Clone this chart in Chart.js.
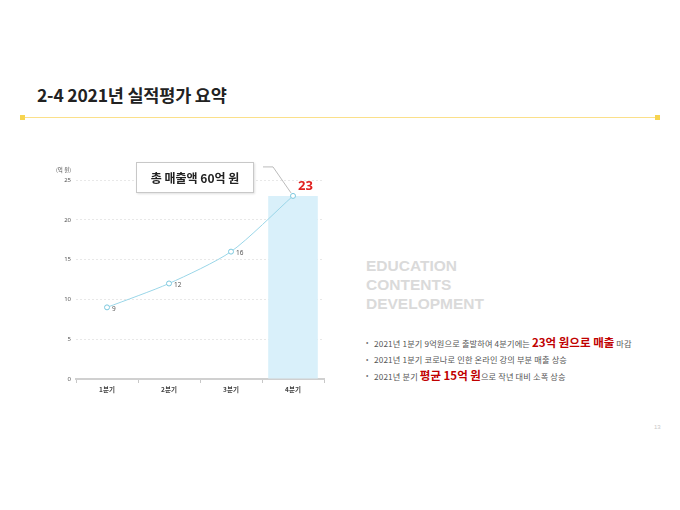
<!DOCTYPE html>
<html>
<head>
<meta charset="utf-8">
<script src="https://cdn.jsdelivr.net/npm/chart.js@4.4.1/dist/chart.umd.min.js"></script>
<style>
  body { margin: 0; background: #fff; font-family: "Noto Sans CJK KR", sans-serif; }
  #page { position: relative; width: 680px; height: 510px; overflow: hidden; background: #fff; }
  .title { position: absolute; left: 37px; top: 82px; font-size: 17.5px; font-weight: 700; color: #222; letter-spacing: -0.2px; }
  .rule { position: absolute; left: 23px; top: 117px; width: 634px; height: 1px; background: #fbe08a; }
  .sq { position: absolute; top: 115px; width: 5px; height: 5px; background: #f7d450; }
  #chartBox { position: absolute; left: 40px; top: 156px; width: 300px; height: 254px; }
  .unit { position: absolute; left: 56px; top: 166px; font-size: 5.5px; color: #555; }
  .callout { position: absolute; left: 136px; top: 162px; width: 116px; height: 29px; border: 1px solid #c8c8c8;
             background: #fff; box-shadow: 1px 1px 2px rgba(0,0,0,0.12); font-size: 12px; font-weight: 700; color: #222;
             text-align: center; line-height: 29px; }
  .edu { position: absolute; left: 366px; top: 256px; font-family: "Liberation Sans", Arial, sans-serif; font-weight: 700;
         font-size: 15.5px; line-height: 19px; color: #dadada; }
  .bullets { position: absolute; left: 366px; top: 334px; font-size: 8.2px; color: #555; letter-spacing: 0.15px; }
  .bullets div { position: relative; padding-left: 8px; height: 16.5px; line-height: 16.5px; white-space: nowrap; }
  .bullets div::before { content: "•"; position: absolute; left: 0; top: 0; font-size: 7px; color: #777; }
  .bullets b { color: #c00000; font-size: 11.5px; font-weight: 700; letter-spacing: 0; }
  .pno { position: absolute; left: 654px; top: 424px; font-size: 6px; color: #c8c8c8; font-family: "Liberation Sans", Arial, sans-serif; }
</style>
</head>
<body>
<div id="page">
  <div class="title">2-4 2021년 실적평가 요약</div>
  <div class="rule"></div>
  <div class="sq" style="left:20px"></div>
  <div class="sq" style="left:655px"></div>

  <div id="chartBox"><canvas id="grafico"></canvas></div>
  <div class="unit">(억 원)</div>
  <div class="callout">총 매출액 60억 원</div>

  <div class="edu">EDUCATION<br>CONTENTS<br>DEVELOPMENT</div>
  <div class="bullets">
    <div>2021년 1분기 9억원으로 출발하여 4분기에는 <b>23억 원으로 매출</b> 마감</div>
    <div>2021년 1분기 코로나로 인한 온라인 강의 부분 매출 상승</div>
    <div>2021년 분기 <b>평균 15억 원</b>으로 작년 대비 소폭 상승</div>
  </div>
  <div class="pno">13</div>
</div>

<script>
// datos del grafico
const categorias = ['1분기', '2분기', '3분기', '4분기']
const ventasTrimestre = [9, 12, 16, 23]
const barraResaltada = [null, null, null, 23]
const ticksY = [0, 5, 10, 15, 20, 25]

// etiquetas de los puntos (el ultimo va en rojo con linea guia)
const etiquetasPlugin = {
  id: 'etiquetas',
  afterDatasetsDraw(chart) {
    const ctx = chart.ctx
    const meta = chart.getDatasetMeta(0)
    ctx.save()
    meta.data.forEach((pt, i) => {
      const v = ventasTrimestre[i]
      if (i < ventasTrimestre.length - 1) {
        ctx.font = '6.5px "Noto Sans", sans-serif'
        ctx.fillStyle = '#555'
        ctx.textAlign = 'left'
        ctx.textBaseline = 'middle'
        ctx.fillText(String(v), pt.x + 5, pt.y + 2)
      } else {
        // linea guia hacia el recuadro
        ctx.strokeStyle = '#aaa'
        ctx.lineWidth = 0.8
        ctx.beginPath()
        ctx.moveTo(pt.x - 2, pt.y - 3)
        ctx.lineTo(pt.x - 20, pt.y - 29)
        ctx.lineTo(pt.x - 30, pt.y - 29)
        ctx.stroke()
        ctx.font = 'bold 13px "Noto Sans", sans-serif'
        ctx.fillStyle = '#e0201f'
        ctx.textAlign = 'left'
        ctx.textBaseline = 'middle'
        ctx.fillText(String(v), pt.x + 5, pt.y - 10)
      }
    })
    ctx.restore()
  }
}

new Chart(document.getElementById('grafico'), {
  type: 'bar',
  data: {
    labels: categorias,
    datasets: [
      {
        type: 'line',
        data: ventasTrimestre,
        borderColor: '#9ad6e8',
        borderWidth: 1,
        tension: 0.25,
        pointRadius: 2.5,
        pointBorderWidth: 1,
        pointBorderColor: '#7cc8de',
        pointBackgroundColor: '#fff',
        order: 1
      },
      {
        data: barraResaltada,
        backgroundColor: '#d9f0fa',
        barPercentage: 0.8,
        categoryPercentage: 1,
        order: 2
      }
    ]
  },
  plugins: [etiquetasPlugin],
  options: {
    responsive: true,
    maintainAspectRatio: false,
    animation: false,
    layout: { padding: { top: 24, right: 16, left: 0, bottom: 0 } },
    scales: {
      y: {
        min: 0,
        max: 25,
        afterFit: (s) => { s.width = 36 },
        afterBuildTicks: (s) => { s.ticks = ticksY.map(v => ({ value: v })) },
        ticks: {
          padding: 5,
          color: '#555',
          font: { size: 6, family: '"Noto Sans", sans-serif' }
        },
        grid: {
          color: '#e2e2e2',
          lineWidth: 0.8,
          drawTicks: false
        },
        border: { display: false, dash: [2, 2] }
      },
      x: {
        afterFit: (s) => { s.height = 31 },
        ticks: {
          padding: 3,
          color: '#444',
          font: { size: 6.5, weight: 'bold', family: '"Noto Sans CJK KR", sans-serif' }
        },
        grid: {
          offset: true,
          drawOnChartArea: false,
          drawTicks: true,
          tickLength: 4,
          color: '#c8c8c8'
        },
        border: { color: '#d0d0d0', width: 2 }
      }
    },
    plugins: {
      legend: { display: false },
      tooltip: { enabled: false }
    }
  }
})
</script>
</body>
</html>
